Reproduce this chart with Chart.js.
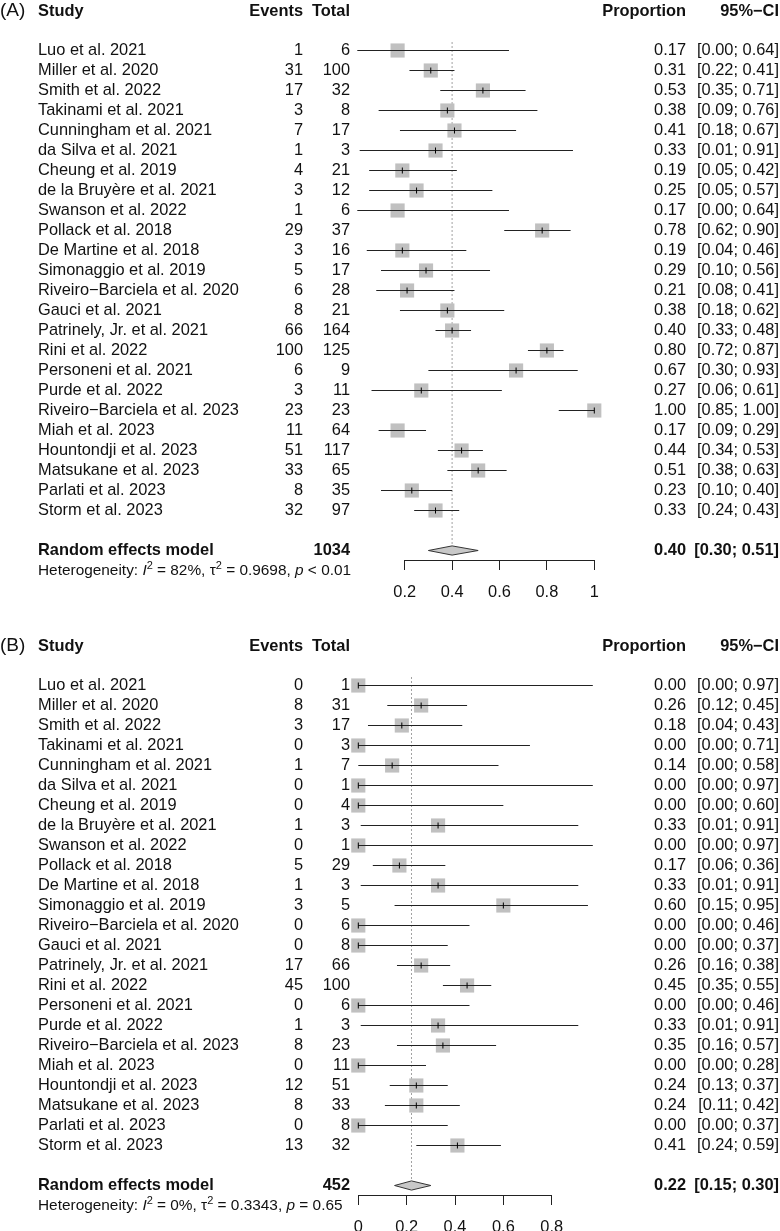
<!DOCTYPE html>
<html>
<head>
<meta charset="utf-8">
<script src="https://cdn.jsdelivr.net/npm/chart.js@4.4.1/dist/chart.umd.min.js"></script>
<style>
  body { margin: 0; background: #fff; }
  canvas { display: block; }
</style>
</head>
<body>
<canvas id="fpA" width="780" height="635"></canvas>
<canvas id="fpB" width="780" height="596"></canvas>
<script>
// ---- data ----
const studies = ['Luo et al. 2021', 'Miller et al. 2020', 'Smith et al. 2022', 'Takinami et al. 2021',
  'Cunningham et al. 2021', 'da Silva et al. 2021', 'Cheung et al. 2019', 'de la Bruyère et al. 2021',
  'Swanson et al. 2022', 'Pollack et al. 2018', 'De Martine et al. 2018', 'Simonaggio et al. 2019',
  'Riveiro\u2212Barciela et al. 2020', 'Gauci et al. 2021', 'Patrinely, Jr. et al. 2021', 'Rini et al. 2022',
  'Personeni et al. 2021', 'Purde et al. 2022', 'Riveiro\u2212Barciela et al. 2023', 'Miah et al. 2023',
  'Hountondji et al. 2023', 'Matsukane et al. 2023', 'Parlati et al. 2023', 'Storm et al. 2023'];

// panel A
const eventsA = [1, 31, 17, 3, 7, 1, 4, 3, 1, 29, 3, 5, 6, 8, 66, 100, 6, 3, 23, 11, 51, 33, 8, 32];
const totalA  = [6, 100, 32, 8, 17, 3, 21, 12, 6, 37, 16, 17, 28, 21, 164, 125, 9, 11, 23, 64, 117, 65, 35, 97];
const propA = [0.17, 0.31, 0.53, 0.38, 0.41, 0.33, 0.19, 0.25, 0.17, 0.78, 0.19, 0.29, 0.21, 0.38, 0.40, 0.80, 0.67, 0.27, 1.00, 0.17, 0.44, 0.51, 0.23, 0.33];
const lowA  = [0.00, 0.22, 0.35, 0.09, 0.18, 0.01, 0.05, 0.05, 0.00, 0.62, 0.04, 0.10, 0.08, 0.18, 0.33, 0.72, 0.30, 0.06, 0.85, 0.09, 0.34, 0.38, 0.10, 0.24];
const highA = [0.64, 0.41, 0.71, 0.76, 0.67, 0.91, 0.42, 0.57, 0.64, 0.90, 0.46, 0.56, 0.41, 0.62, 0.48, 0.87, 0.93, 0.61, 1.00, 0.29, 0.53, 0.63, 0.40, 0.43];
const pooledA = [0.40, 0.30, 0.51];   // estimate, lower, upper
const pooledTotalA = 1034;
const hetA = ['82%', '0.9698', '< 0.01'];
const ticksA = [0.2, 0.4, 0.6, 0.8, 1];
const tickLabelsA = ['0.2', '0.4', '0.6', '0.8', '1'];

// panel B
const eventsB = [0, 8, 3, 0, 1, 0, 0, 1, 0, 5, 1, 3, 0, 0, 17, 45, 0, 1, 8, 0, 12, 8, 0, 13];
const totalB  = [1, 31, 17, 3, 7, 1, 4, 3, 1, 29, 3, 5, 6, 8, 66, 100, 6, 3, 23, 11, 51, 33, 8, 32];
const propB = [0.00, 0.26, 0.18, 0.00, 0.14, 0.00, 0.00, 0.33, 0.00, 0.17, 0.33, 0.60, 0.00, 0.00, 0.26, 0.45, 0.00, 0.33, 0.35, 0.00, 0.24, 0.24, 0.00, 0.41];
const lowB  = [0.00, 0.12, 0.04, 0.00, 0.00, 0.00, 0.00, 0.01, 0.00, 0.06, 0.01, 0.15, 0.00, 0.00, 0.16, 0.35, 0.00, 0.01, 0.16, 0.00, 0.13, 0.11, 0.00, 0.24];
const highB = [0.97, 0.45, 0.43, 0.71, 0.58, 0.97, 0.60, 0.91, 0.97, 0.36, 0.91, 0.95, 0.46, 0.37, 0.38, 0.55, 0.46, 0.91, 0.57, 0.28, 0.37, 0.42, 0.37, 0.59];
const pooledB = [0.22, 0.15, 0.30];
const pooledTotalB = 452;
const hetB = ['0%', '0.3343', '= 0.65'];
const ticksB = [0, 0.2, 0.4, 0.6, 0.8];
const tickLabelsB = ['0', '0.2', '0.4', '0.6', '0.8'];

// ---- drawing ----
const FONT = '"Liberation Sans", Arial, Helvetica, sans-serif';
const FS = 16.4;
const f = (size, w = '', s = '') => `${s} ${w} ${size}px ${FONT}`.trim();
const fmt = v => v.toFixed(2);

function forest(elId, p) {
  const el = document.getElementById(elId);
  const n = studies.length, poolRow = n + 1, dh = 0.23;
  const top = 40.5, axisY = 560;

  const whiskers = studies.map((_, i) => ({
    type: 'line', showLine: true, data: [{x: p.lo[i], y: i}, {x: p.hi[i], y: i}],
    borderColor: '#222', borderWidth: 1, pointRadius: 0, clip: false, order: 1
  }));

  const cols = {
    id: 'cols',
    afterDraw(c) {
      const ctx = c.ctx, ys = c.scales.y;
      ctx.save();
      ctx.fillStyle = '#111';
      ctx.textBaseline = 'middle';
      const txt = (s, x, y, align, font) => { ctx.font = font; ctx.textAlign = align; ctx.fillText(s, x, y); };
      // header
      txt(p.label, 0, 11, 'left', f(19));
      txt('Study', 38, 11, 'left', f(FS, 'bold'));
      txt('Events', 303, 11, 'right', f(FS, 'bold'));
      txt('Total', 350, 11, 'right', f(FS, 'bold'));
      txt('Proportion', 686, 11, 'right', f(FS, 'bold'));
      txt('95%\u2212CI', 779, 11, 'right', f(FS, 'bold'));
      // rows
      studies.forEach((s, i) => {
        const y = ys.getPixelForValue(i);
        txt(s, 38, y, 'left', f(FS));
        txt(String(p.events[i]), 303, y, 'right', f(FS));
        txt(String(p.total[i]), 350, y, 'right', f(FS));
        txt(fmt(p.est[i]), 686, y, 'right', f(FS));
        txt(`[${fmt(p.lo[i])}; ${fmt(p.hi[i])}]`, 779, y, 'right', f(FS));
      });
      // pooled
      const yp = ys.getPixelForValue(poolRow);
      txt('Random effects model', 38, yp, 'left', f(FS, 'bold'));
      txt(String(p.pooledTotal), 350, yp, 'right', f(FS, 'bold'));
      txt(fmt(p.pooled[0]), 686, yp, 'right', f(FS, 'bold'));
      txt(`[${fmt(p.pooled[1])}; ${fmt(p.pooled[2])}]`, 779, yp, 'right', f(FS, 'bold'));
      // heterogeneity line
      const yh = yp + 20, HS = 15.4;
      const segs = [
        ['Heterogeneity: '], ['I', 'italic'], ['2', 'sup'], [` = ${p.het[0]}, \u03c4`], ['2', 'sup'],
        [` = ${p.het[1]}, `], ['p', 'italic'], [` ${p.het[2]}`]
      ];
      let x = 38;
      ctx.textAlign = 'left';
      segs.forEach(([s, k]) => {
        ctx.font = k === 'sup' ? f(11) : k === 'italic' ? f(HS, '', 'italic') : f(HS);
        ctx.fillText(s, x, k === 'sup' ? yh - 5 : yh);
        x += ctx.measureText(s).width;
      });
      ctx.restore();
    }
  };

  return new Chart(el, {
    type: 'scatter',
    data: {
      datasets: [
        {data: p.est.map((v, i) => ({x: v, y: i})), pointStyle: 'line', pointRotation: 90, pointRadius: 3,
         borderColor: '#000', borderWidth: 1, clip: false, order: 0},
        ...whiskers,
        {type: 'line', showLine: true, fill: 'shape',
         data: [{x: p.pooled[1], y: poolRow}, {x: p.pooled[0], y: poolRow - dh}, {x: p.pooled[2], y: poolRow},
                {x: p.pooled[0], y: poolRow + dh}, {x: p.pooled[1], y: poolRow}],
         backgroundColor: '#c8c8c8', borderColor: '#333', borderWidth: 1, pointRadius: 0, tension: 0, order: 2},
        {data: p.est.map((v, i) => ({x: v, y: i})), pointStyle: 'rect', pointRadius: 10,
         backgroundColor: '#c0c0c0', borderWidth: 0, clip: false, order: 3},
        {type: 'line', showLine: true, data: [{x: p.pooled[0], y: -0.4}, {x: p.pooled[0], y: poolRow - dh}],
         borderColor: '#444', borderWidth: 1, borderDash: [1, 3], pointRadius: 0, clip: false, order: 4}
      ]
    },
    options: {
      responsive: false, animation: false, events: [],
      layout: {padding: {left: p.left, right: 780 - p.right, top: top, bottom: 0}},
      plugins: {legend: {display: false}, tooltip: {enabled: false}},
      scales: {
        y: {type: 'linear', display: false, reverse: true, min: -0.5, max: poolRow + 0.475},
        x: {
          type: 'linear', min: p.ticks[0], max: p.ticks[p.ticks.length - 1],
          afterBuildTicks: s => { s.ticks = p.ticks.map(v => ({value: v})); },
          afterFit: s => { s.height = el.height - axisY; },
          grid: {drawOnChartArea: false, drawTicks: true, tickLength: 10, color: '#222', lineWidth: 1},
          border: {display: true, color: '#222', width: 1},
          ticks: {padding: 13, color: '#111', font: {family: FONT, size: FS}, maxRotation: 0,
                  callback: (v, i) => p.tickLabels[i]}
        }
      }
    },
    plugins: [cols]
  });
}

forest('fpA', {label: '(A)', events: eventsA, total: totalA, est: propA, lo: lowA, hi: highA,
  pooled: pooledA, pooledTotal: pooledTotalA, het: hetA, ticks: ticksA, tickLabels: tickLabelsA,
  left: 404.7, right: 594.3});
forest('fpB', {label: '(B)', events: eventsB, total: totalB, est: propB, lo: lowB, hi: highB,
  pooled: pooledB, pooledTotal: pooledTotalB, het: hetB, ticks: ticksB, tickLabels: tickLabelsB,
  left: 358.3, right: 551.7});
</script>
</body>
</html>
